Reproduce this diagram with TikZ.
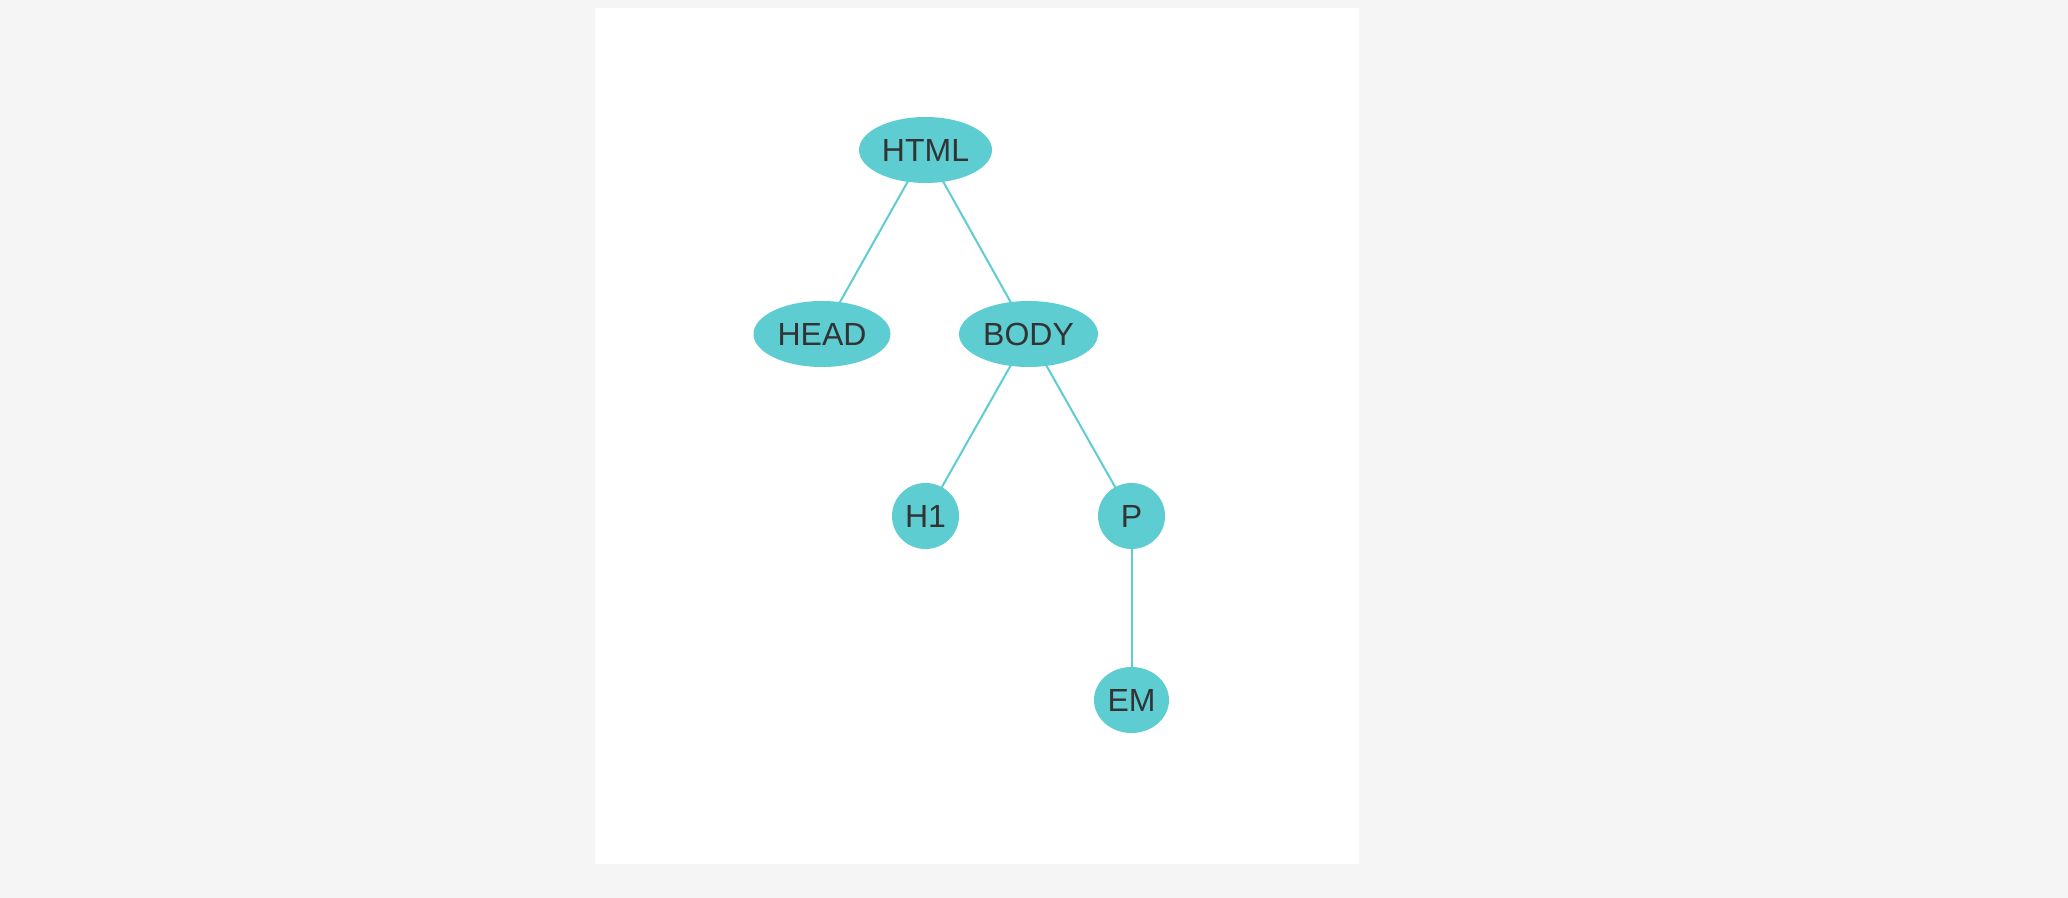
\documentclass[tikz,border=0pt]{standalone}
\usepackage{fontspec}
\setmainfont{Liberation Sans}
\usetikzlibrary{shapes.geometric}
\definecolor{pagebg}{HTML}{F5F5F5}
\definecolor{nodefill}{HTML}{5DCDD1}
\definecolor{labeltext}{HTML}{333333}
\pgfdeclarelayer{background}
\pgfsetlayers{background,main}
\tikzset{
  tag/.style={ellipse, fill=nodefill, inner sep=0pt, text=labeltext,
    font=\fontsize{16}{18}\selectfont},
  link/.style={draw=nodefill, line width=1pt}
}
\begin{document}
\begin{tikzpicture}[x=0.5pt, y=-0.5pt]
  \begin{pgfonlayer}{background}
    \fill[pagebg] (0,0) rectangle (2068,898);
    \fill[white] (595,8) rectangle (1359,864);
  \end{pgfonlayer}
  \useasboundingbox (0,0) rectangle (2068,898);

  \node[tag, minimum width=66.5pt, minimum height=33pt] (html) at (925.5,150) {HTML};
  \node[tag, minimum width=68.5pt, minimum height=33pt] (head) at (822,334) {HEAD};
  \node[tag, minimum width=69.5pt, minimum height=33pt] (body) at (1028.5,334) {BODY};
  \node[tag, minimum width=33.5pt, minimum height=33pt] (h1) at (925.5,516) {H1};
  \node[tag, minimum width=33.5pt, minimum height=33pt] (p) at (1131.5,516) {P};
  \node[tag, minimum width=37.5pt, minimum height=33pt] (em) at (1131.5,700) {EM};

  \begin{pgfonlayer}{background}
    \draw[link] (html.center) -- (head.center);
    \draw[link] (html.center) -- (body.center);
    \draw[link] (body.center) -- (h1.center);
    \draw[link] (body.center) -- (p.center);
    \draw[link] (p.center) -- (em.center);
  \end{pgfonlayer}
\end{tikzpicture}
\end{document}
